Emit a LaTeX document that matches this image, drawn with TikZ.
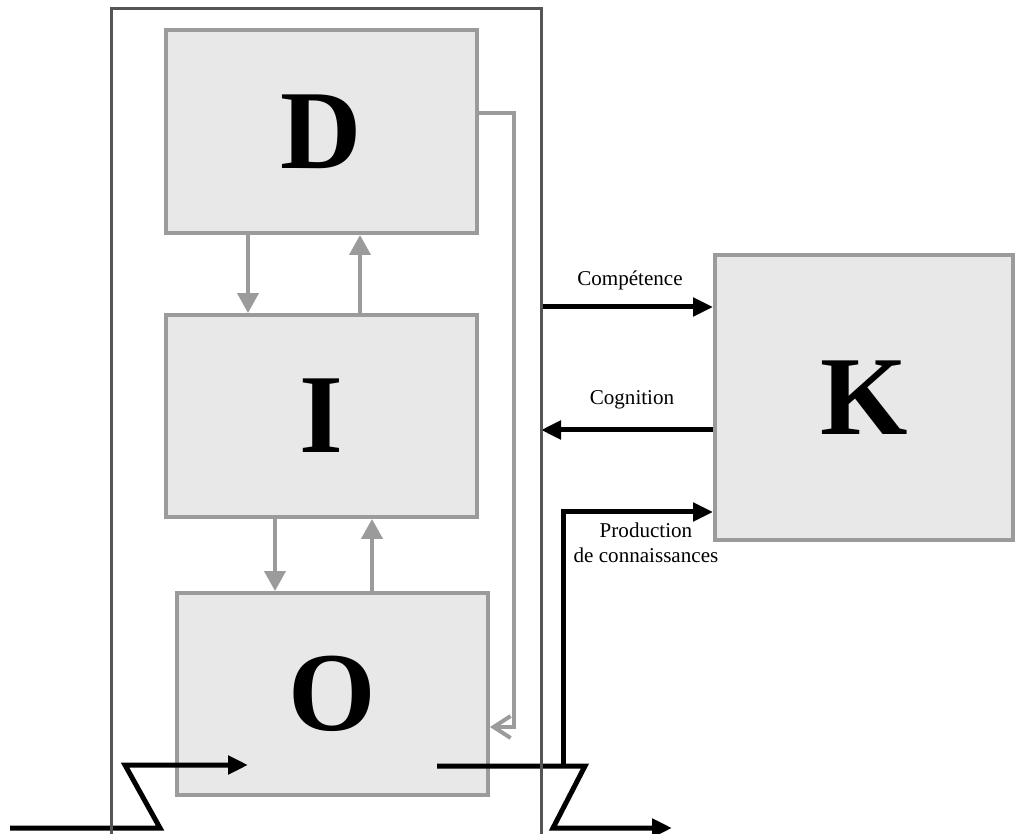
\documentclass[tikz,border=0pt]{standalone}
\usepackage{fontspec}
\setmainfont{Liberation Serif}
\usetikzlibrary{arrows.meta}
\definecolor{boxfill}{RGB}{232,232,232}
\definecolor{boxline}{RGB}{155,155,155}
\definecolor{frameline}{RGB}{85,85,85}

\begin{document}
\begin{tikzpicture}[x=0.02cm, y=-0.02cm,
    block/.style={draw=boxline, line width=0.08cm, fill=boxfill, inner sep=0pt,
      font=\fontsize{64}{64}\selectfont\bfseries},
    grayarrow/.style={draw=boxline, line width=0.08cm, -{Triangle[length=0.4cm, width=0.42cm]}},
    backarrow/.style={draw=boxline, line width=0.08cm, -{Straight Barb[length=0.34cm, width=0.44cm]}},
    flow/.style={line width=0.1cm, -{Triangle[length=0.4cm, width=0.36cm]}},
    lab/.style={font=\fontsize{12}{14.5}\selectfont, align=center}]
  \useasboundingbox (0,0) rectangle (1015,834);
  % blocks
  \node[block, minimum width=6.22cm, minimum height=4.06cm] (D) at (321.5,131.5) {D};
  \node[block, minimum width=6.22cm, minimum height=4.04cm] (I) at (321.5,416) {I};
  \node[block, minimum width=6.22cm, minimum height=4.04cm] (O) at (332.5,694) {O};
  \node[block, minimum width=5.96cm, minimum height=5.7cm] (K) at (864,397.5) {K};
  \coordinate (frameR) at (541,0);
  % inner links
  \draw[grayarrow] (D.south -| 248,0) -- (I.north -| 248,0);
  \draw[grayarrow] (I.north -| 360,0) -- (D.south -| 360,0);
  \draw[grayarrow] (I.south -| 275,0) -- (O.north -| 275,0);
  \draw[grayarrow] (O.north -| 372,0) -- (I.south -| 372,0);
  \draw[backarrow] (D.east |- 0,113) -- (514,113) -- (514,727) -- (O.east |- 0,727);
  % links with K
  \draw[flow] (frameR |- 0,307) -- (K.west |- 0,307);
  \draw[flow] (K.west |- 0,430) -- (frameR |- 0,430);
  \draw[flow] (563,766) -- (563,512) -- (K.west |- 0,512);
  \node[lab] (comp) at (630,280) {Compétence};
  \node[lab] (cogn) at (632,400) {Cognition};
  \node[lab] (prod) at (646,543) {Production\\de connaissances};
  % in and out
  \draw[flow] (10,828) -- (160,828) -- (125,765) -- (248,765);
  \draw[flow] (437,766) -- (585,766) -- (553,828) -- (672,828);
  % frame
  \draw[frameline, line width=0.06cm] (111,840) -- (111,9) -- (541,9) -- (541,840);
\end{tikzpicture}
\end{document}
